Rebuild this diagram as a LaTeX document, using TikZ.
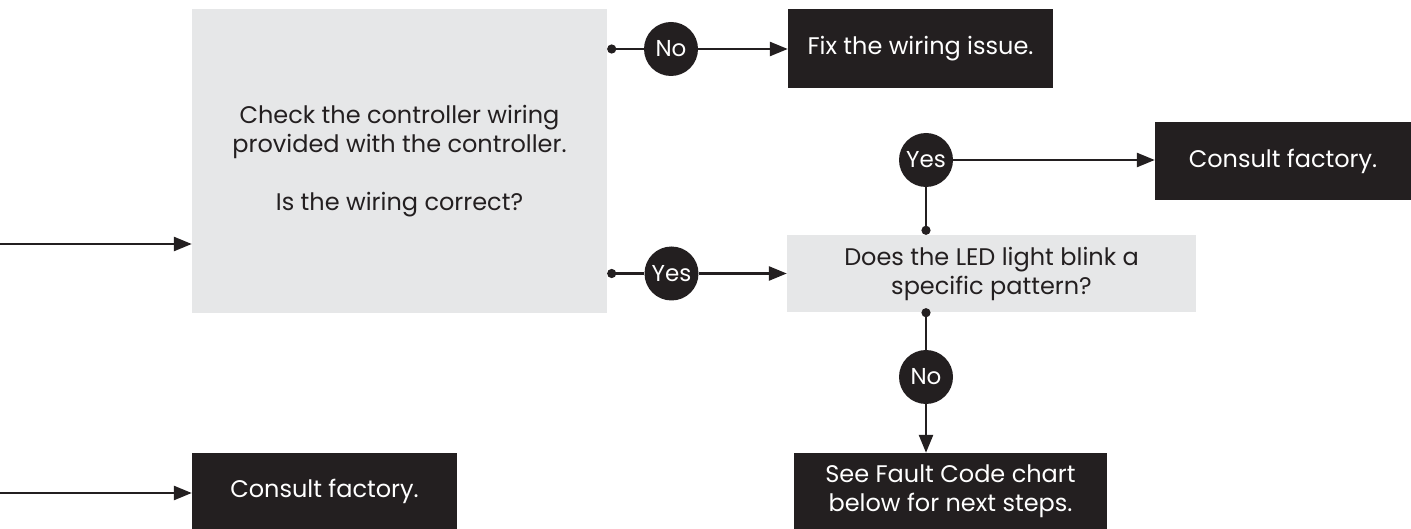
\documentclass[tikz,border=0pt]{standalone}
\usepackage{fontspec}
\setmainfont{Poppins}
\usepackage{xcolor}
\usetikzlibrary{arrows.meta}
\definecolor{ink}{HTML}{231F20}
\definecolor{panel}{HTML}{E6E7E8}
\definecolor{paper}{HTML}{FFFFFF}
\tikzset{
  every node/.append style={font=\fontsize{24}{29}\selectfont, inner sep=0pt},
  query/.style={fill=panel, text=ink, align=center},
  action/.style={fill=ink, text=paper, align=center},
  answer/.style={circle, fill=ink, text=paper, minimum size=54pt,
    font=\fontsize{23}{28}\selectfont},
  link/.style={draw=ink, line width=2.6pt},
  flow/.style={link, -{Triangle[length=18pt,width=14pt]}},
  tapped/.style={link, {Circle[length=9pt]}-},
}

\begin{document}
\begin{tikzpicture}[x=1pt,y=-1pt]
  \useasboundingbox (0,0) rectangle (1411,529);

  % Main wiring check
  \node[query, minimum width=415pt, minimum height=304pt] (check) at (399.5,161)
    {Check the controller wiring\\provided with the controller.\\[29pt]Is the wiring correct?};
  \coordinate (in1) at (0,244);
  \draw[flow] (in1) -- (in1 -| check.west);

  % No branch
  \node[answer] (no1) at (671,49) {No};
  \node[action, minimum width=265pt, minimum height=79pt] (fix) at (920.5,48.5)
    {Fix the wiring issue.};
  \draw[tapped] (check.east |- no1) -- (no1);
  \draw[flow] (no1) -- (no1 -| fix.west);

  % Yes branch: LED check
  \node[answer] (yes1) at (671.5,273.5) {Yes};
  \node[query, minimum width=409pt, minimum height=77pt] (led) at (991.5,273.5)
    {Does the LED light blink a\\specific pattern?};
  \draw[tapped] (check.east |- yes1) -- (yes1);
  \draw[flow] (yes1) -- (yes1 -| led.west);

  \node[answer] (yes2) at (926,160) {Yes};
  \node[action, minimum width=256pt, minimum height=78pt] (factory1) at (1283,161)
    {Consult factory.};
  \draw[tapped] (led.north -| yes2) -- (yes2);
  \draw[flow] (yes2) -- (yes2 -| factory1.west);

  \node[answer] (no2) at (926,377) {No};
  \node[action, minimum width=313pt, minimum height=76pt] (fault) at (950.5,491)
    {See Fault Code chart\\below for next steps.};
  \draw[tapped] ([yshift=4pt]led.south -| no2) -- (no2);
  \draw[flow] (no2) -- (no2 |- fault.north);

  % Lower entry
  \node[action, minimum width=265pt, minimum height=76pt] (factory2) at (324.5,491)
    {Consult factory.};
  \coordinate (in2) at (0,493);
  \draw[flow] (in2) -- (in2 -| factory2.west);
\end{tikzpicture}
\end{document}
